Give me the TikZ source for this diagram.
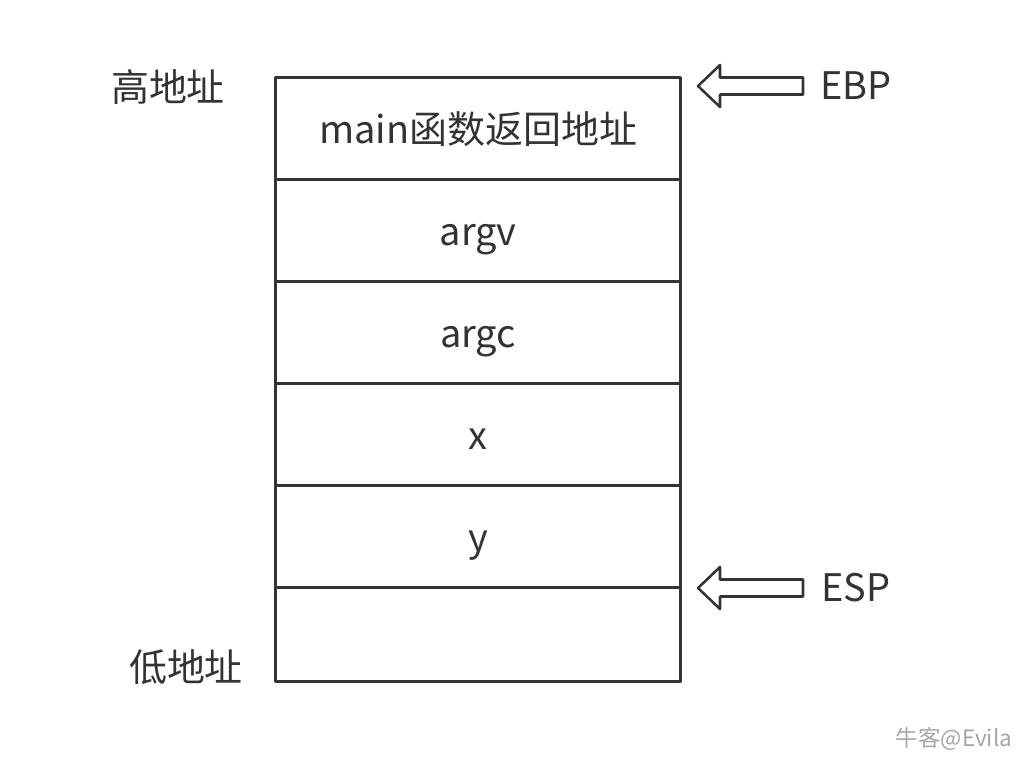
\documentclass[tikz,border=0pt]{standalone}
\usepackage{fontspec}
\setmainfont{Noto Sans CJK SC}
\usetikzlibrary{positioning}
\definecolor{inkgray}{HTML}{333333}
\def\cellwd{10.1cm}

\begin{document}
\begin{tikzpicture}[x=0.025cm,y=-0.025cm, line join=round, node distance=0pt, inkgray]
    \tikzstyle{cell}=[rectangle, draw=inkgray, line width=2.1pt, minimum width=\cellwd, minimum height=2.55cm, inner sep=0pt, outer sep=0pt, text height=25pt, text depth=4pt, font=\fontsize{27}{32}\selectfont]
    \tikzstyle{addr}=[font=\fontsize{27}{32}\selectfont, inner sep=0pt]
    \tikzstyle{reg}=[font=\fontsize{27}{32}\selectfont, inner sep=0pt, anchor=west]
    \tikzset{ptr/.pic={\draw[line width=1.8pt] (0,0) -- (22,-21) -- (22,-8.5) -- (105,-8.5) -- (105,8.5) -- (22,8.5) -- (22,21) -- cycle;}}
    \useasboundingbox (0,0) rectangle (1024,758);

    % the stack, top to bottom
    \node[cell] (c-1) at (478,128.5) {main函数返回地址};
    \node[cell, below=of c-1] (c-2) {argv};
    \node[cell, below=of c-2] (c-3) {argc};
    \node[cell, below=of c-3] (c-4) {x};
    \node[cell, below=of c-4] (c-5) {y};
    \node[cell, below=of c-5, minimum height=2.35cm] (c-6) {};

    % address labels
    \node[addr] (hi) at (168,87) {高地址};
    \node[addr] (lo) at (186,667) {低地址};

    % register pointers
    \pic at (698,86) {ptr};
    \node[reg] (ebp) at (820,86) {EBP};
    \pic at (698,588) {ptr};
    \node[reg] (esp) at (821,588) {ESP};

    \node[text=black!35, font=\fontsize{16}{19}\selectfont, inner sep=0pt] (mark) at (954,739) {牛客@Evila};
\end{tikzpicture}
\end{document}
